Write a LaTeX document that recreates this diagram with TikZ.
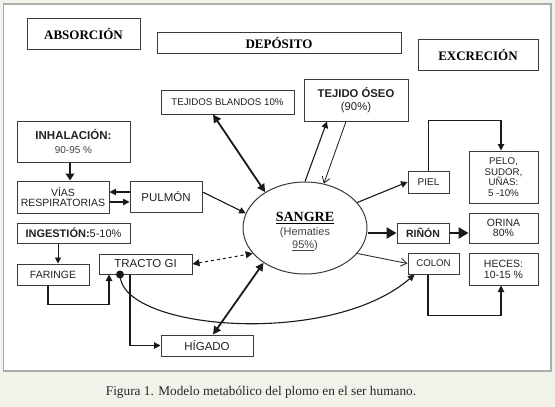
\documentclass[tikz,border=0pt]{standalone}
\usepackage{fontspec}
\setmainfont{Liberation Serif}
\setsansfont{Liberation Sans}
\usetikzlibrary{arrows.meta,shapes.geometric,calc}
\definecolor{bgc}{HTML}{F2F1EA}
\definecolor{txt}{HTML}{222222}
\definecolor{subtxt}{HTML}{444444}
\definecolor{ln}{HTML}{1A1A1A}
\definecolor{boxc}{HTML}{3A3A3A}
\begin{document}
\begin{tikzpicture}[x=1pt,y=-1pt,
  box/.style={draw=boxc, line width=1pt, fill=white, inner sep=0pt, align=center,
    text=txt, font=\sffamily\fontsize{11}{12}\selectfont},
  head/.style={box, text=black, font=\rmfamily\bfseries\fontsize{13}{15}\selectfont},
  arr/.style={draw=ln, line width=1.1pt, -{Triangle[length=6.5pt,width=6.5pt]}},
  arrthin/.style={draw=ln, line width=0.8pt, -{Triangle[length=6pt,width=6pt]}},
  arrthick/.style={draw=ln, line width=2pt, -{Triangle[length=7pt,width=8.5pt]}},
  bigarr/.style={draw=ln, line width=2.6pt, -{Triangle[length=10pt,width=11pt]}},
  dbl/.style={draw=ln, line width=1.8pt, {Triangle[length=8pt,width=8pt]}-{Triangle[length=8pt,width=8pt]}},
  dashdbl/.style={draw=ln, line width=1pt, dashed, {Triangle[length=7pt,width=7pt]}-{Triangle[length=7pt,width=7pt]}},
  openarr/.style={draw=ln, line width=0.8pt, -{Straight Barb[length=6pt,width=8pt]}}
]
\path[fill=bgc] (0,0) rectangle (555,407);
\useasboundingbox (0,0) rectangle (555,407);
\draw[fill=white, draw=gray!65, line width=1.5pt] (3.5,4) rectangle (551,371);

% headings
\node[head, minimum width=113pt, minimum height=31pt] (absorcion) at (83.5,33.5) {ABSORCIÓN};
\node[head, minimum width=244pt, minimum height=21pt] (deposito) at (279,42.5) {DEPÓSITO};
\node[head, minimum width=120pt, minimum height=31pt] (excrecion) at (478,54.5) {EXCRECIÓN};

% deposit
\node[box, font=\sffamily\fontsize{9.7}{11}\selectfont, minimum width=133pt, minimum height=24pt] (blandos) at (227.5,102) {TEJIDOS BLANDOS 10\%};
\node[box, font=\sffamily\fontsize{11.3}{12.5}\selectfont, minimum width=104pt, minimum height=42pt] (oseo) at (356,100) {{\bfseries TEJIDO ÓSEO}\\[1pt](90\%)};

% absorption
\node[box, minimum width=113pt, minimum height=41pt] (inhal) at (73.5,141.5) {{\bfseries\fontsize{11.5}{13}\selectfont INHALACIÓN:}\\[2pt]{\color{subtxt}\fontsize{10}{11}\selectfont 90-95 \%}};
\node[box, font=\sffamily\fontsize{10.5}{10.5}\selectfont, minimum width=92pt, minimum height=32pt] (vias) at (63,197) {VÍAS\\RESPIRATORIAS};
\node[box, font=\sffamily\fontsize{11.5}{13}\selectfont, minimum width=72pt, minimum height=31pt] (pulmon) at (166,197) {PULMÓN};
\node[box, minimum width=113pt, minimum height=20pt] (ingest) at (73.5,233) {{\bfseries INGESTIÓN:}5-10\%};
\node[box, font=\sffamily\fontsize{10.5}{12}\selectfont, minimum width=72pt, minimum height=21pt] (faringe) at (53,274.5) {FARINGE};
\node[box, font=\sffamily\fontsize{11.5}{13}\selectfont, minimum width=93pt, minimum height=20pt] (tracto) at (145.5,264) {TRACTO GI};
\node[box, font=\sffamily\fontsize{11.5}{13}\selectfont, minimum width=92pt, minimum height=21pt] (higado) at (207,345.5) {HÍGADO};

% blood
\node[draw=boxc, ellipse, line width=1pt, fill=white, inner sep=0pt,
  minimum width=124pt, minimum height=92pt] (sangre) at (305,228) {};
\node[align=center, inner sep=0pt, font=\sffamily\fontsize{11}{12.5}\selectfont, text=subtxt]
  (sangretxt) at ([yshift=-3.5pt]sangre.center)
  {{\rmfamily\bfseries\fontsize{14}{16}\selectfont\color{black}\underline{SANGRE}}\\[1.5pt]
   (Hematies\\\underline{95\%})};

% excretion
\node[box, font=\sffamily\fontsize{10}{11}\selectfont, minimum width=41pt, minimum height=22pt] (piel) at (428.5,182) {PIEL};
\node[box, font=\sffamily\fontsize{9.7}{10.5}\selectfont, minimum width=69pt, minimum height=52pt] (pelo) at (503.5,177) {PELO,\\SUDOR,\\UÑAS:\\5 -10\%};
\node[box, font=\sffamily\bfseries\fontsize{10.5}{12}\selectfont, minimum width=52pt, minimum height=20pt] (rinon) at (423,233) {RIÑÓN};
\node[box, font=\sffamily\fontsize{10.5}{10.5}\selectfont, minimum width=69pt, minimum height=30pt] (orina) at (503.5,228) {ORINA\\80\%};
\node[box, font=\sffamily\fontsize{9.7}{11}\selectfont, minimum width=51pt, minimum height=21pt] (colon) at (433.5,263.5) {COLON};
\node[box, font=\sffamily\fontsize{10.5}{11}\selectfont, minimum width=69pt, minimum height=32pt] (heces) at (503.5,269) {HECES:\\10-15 \%};

% caption
\node[font=\rmfamily\fontsize{13.3}{15}\selectfont, text=black!85] (cap) at (261,392.5) {Figura 1. Modelo metabólico del plomo en el ser humano.};

% connectors
\draw[arrthick] ([xshift=-3.5pt]inhal.south) -- ([xshift=7pt]vias.north);
\draw[arr] ([yshift=5pt]pulmon.west) -- ([yshift=5pt]vias.east);
\draw[arr] ([yshift=-5pt]vias.east) -- ([yshift=-5pt]pulmon.west);
\draw[arr] ([yshift=5pt]pulmon.east) -- (sangre.166);
\draw[dbl] ([xshift=-14.5pt]blandos.south) -- (sangre.138);
\draw[arr] (sangre.90) -- ([xshift=-29pt]oseo.south);
\draw[openarr] ([xshift=-10pt]oseo.south) -- (sangre.67);
\draw[arr] (sangre.26) -- (piel.west);
\draw[arr] (piel.north) -- ++(0,-50) -| ([xshift=-2.5pt]pelo.north);
\draw[bigarr] (sangre.east |- rinon.west) -- (rinon.west);
\draw[bigarr] (rinon.east) -- (rinon.east -| orina.west);
\draw[openarr] (sangre.-26) -- (colon.west);
\draw[arr] ([xshift=-5.5pt]colon.south) -- ++(0,41) -| ([xshift=-2.5pt]heces.south);
\draw[dashdbl] (tracto.east) -- (sangre.206);
\draw[dbl] ([xshift=6pt]higado.north) -- (sangre.220);
\draw[arrthin] ([xshift=-15.5pt]ingest.south) -- ([xshift=5pt]faringe.north);
\draw[arr] ([xshift=-5pt]faringe.south) -- ++(0,19) -| ([xshift=-36.5pt]tracto.south);
\draw[arr] ([xshift=-15.5pt]tracto.south) |- (higado.west);
\coordinate (gidot) at ([xshift=-25.5pt]tracto.south);
\draw[arr] (gidot) .. controls (120,330) and (330,348) .. ([xshift=7pt]colon.south west);
\fill[ln] (gidot) circle (4pt);
\end{tikzpicture}
\end{document}
